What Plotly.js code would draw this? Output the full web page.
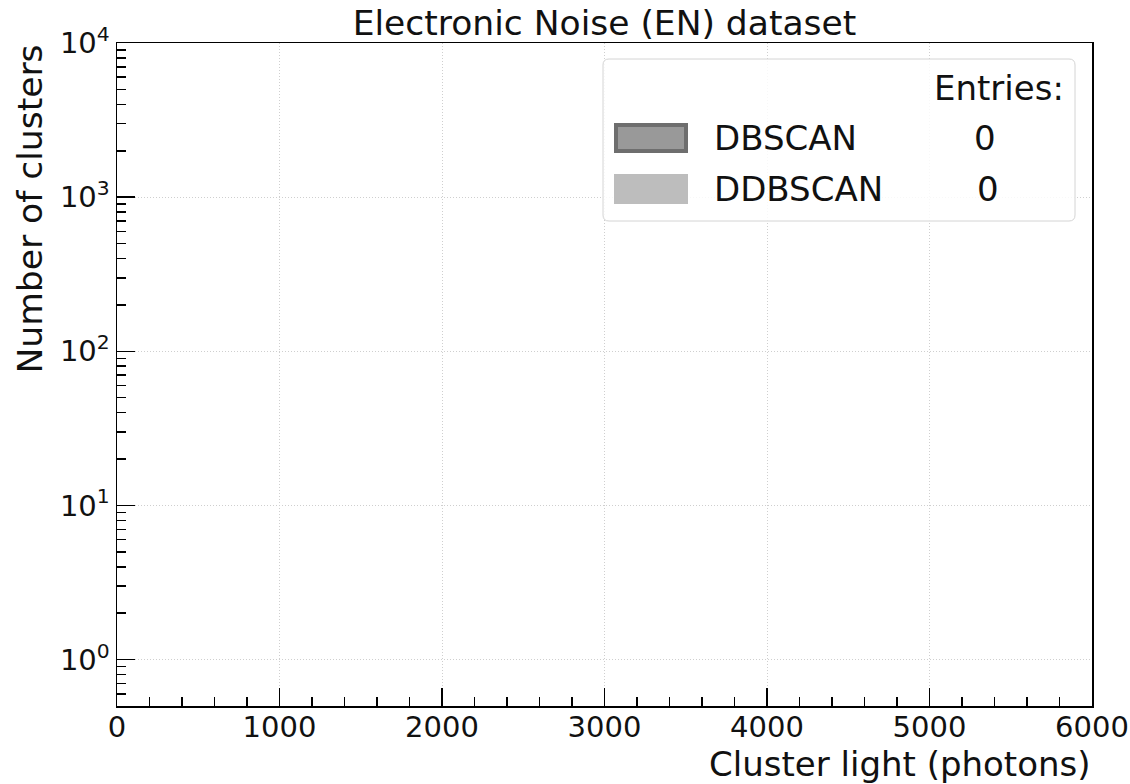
<!DOCTYPE html>
<html>
<head>
<meta charset="utf-8">
<script src="https://cdn.plot.ly/plotly-3.0.1.min.js"></script>
<style>
  html, body { margin: 0; padding: 0; background: #fff; }
  #chart { width: 1130px; height: 784px; }
</style>
</head>
<body>
<div id="chart"></div>
<script>
// ---- Data (the histograms are empty in the reference: 0 entries each) ----
const dbscanLight = [];     // cluster light values (photons) for DBSCAN
const ddbscanLight = [];    // cluster light values (photons) for DDBSCAN
const seriesNames = ['DBSCAN', 'DDBSCAN'];
const xTickVals = [0, 1000, 2000, 3000, 4000, 5000, 6000];
const xTickText = ['0', '1000', '2000', '3000', '4000', '5000', '6000'];
const yTickVals = [1, 10, 100, 1000, 10000];
const yTickText = ['10<sup>0</sup>', '10<sup>1</sup>', '10<sup>2</sup>', '10<sup>3</sup>', '10<sup>4</sup>'];
const chartTitle = 'Electronic Noise (EN) dataset';
const xTitle = 'Cluster light (photons)';
const yTitle = 'Number of clusters';
const legendHeader = 'Entries:';

const FONT = 'DejaVu Sans';
const W = 1130, H = 784;
const M = {l: 117, r: 38, t: 43, b: 78};
const PW = W - M.l - M.r, PH = H - M.t - M.b;
const px = x => (x - M.l) / PW;
const py = y => (H - M.b - y) / PH;

const traces = [
  {type: 'histogram', x: dbscanLight, name: seriesNames[0], xbins: {start: 0, end: 6000, size: 50},
   marker: {color: '#999999', line: {color: '#6e6e6e', width: 3}}, showlegend: false},
  {type: 'histogram', x: ddbscanLight, name: seriesNames[1], xbins: {start: 0, end: 6000, size: 50},
   marker: {color: '#bdbdbd'}, opacity: 1, showlegend: false}
];

// Legend drawn as shapes + annotations (large swatches like the reference)
function roundRect(x0, y0, x1, y1, r) {
  const rx = r / PW, ry = r / PH;
  const X0 = px(x0), X1 = px(x1), Y0 = py(y1), Y1 = py(y0); // Y0 bottom, Y1 top
  return `M${X0 + rx},${Y0} L${X1 - rx},${Y0} Q${X1},${Y0} ${X1},${Y0 + ry} L${X1},${Y1 - ry} Q${X1},${Y1} ${X1 - rx},${Y1} L${X0 + rx},${Y1} Q${X0},${Y1} ${X0},${Y1 - ry} L${X0},${Y0 + ry} Q${X0},${Y0} ${X0 + rx},${Y0} Z`;
}
const shapes = [
  {type: 'path', xref: 'paper', yref: 'paper', path: roundRect(603, 59, 1075, 221, 6),
   fillcolor: 'rgba(255,255,255,0.85)', line: {color: '#d4d4d4', width: 1}, layer: 'above'},
  {type: 'rect', xref: 'paper', yref: 'paper', x0: px(616), x1: px(686), y0: py(151), y1: py(125),
   fillcolor: '#999999', line: {color: '#6e6e6e', width: 4}, layer: 'above'},
  {type: 'rect', xref: 'paper', yref: 'paper', x0: px(614), x1: px(688), y0: py(204), y1: py(174),
   fillcolor: '#bdbdbd', line: {width: 0}, layer: 'above'}
];
const legFont = {family: FONT, size: 34, color: '#111'};
const counts = [dbscanLight.length, ddbscanLight.length];
const annotations = [
  {xref: 'paper', yref: 'paper', x: px(1066), y: py(88), xanchor: 'right', yanchor: 'middle', text: legendHeader, showarrow: false, font: legFont},
  {xref: 'paper', yref: 'paper', x: px(712), y: py(138), xanchor: 'left', yanchor: 'middle', text: seriesNames[0], showarrow: false, font: legFont},
  {xref: 'paper', yref: 'paper', x: px(985), y: py(138), xanchor: 'center', yanchor: 'middle', text: String(counts[0]), showarrow: false, font: legFont},
  {xref: 'paper', yref: 'paper', x: px(712), y: py(189), xanchor: 'left', yanchor: 'middle', text: seriesNames[1], showarrow: false, font: legFont},
  {xref: 'paper', yref: 'paper', x: px(988), y: py(189), xanchor: 'center', yanchor: 'middle', text: String(counts[1]), showarrow: false, font: legFont},
  // axis titles (x right-aligned, y top-aligned like the reference)
  {xref: 'paper', yref: 'paper', x: 1, y: 0, xanchor: 'right', yanchor: 'top', yshift: -37, borderpad: 0, text: xTitle, showarrow: false,
   font: {family: FONT, size: 34, color: '#111'}},
  {xref: 'paper', yref: 'paper', x: 0, y: 1, xanchor: 'center', yanchor: 'top', xshift: -88, text: yTitle, textangle: -90, showarrow: false,
   font: {family: FONT, size: 34.5, color: '#111'}}
];

const layout = {
  width: W, height: H,
  margin: M,
  paper_bgcolor: '#fff', plot_bgcolor: '#fff',
  font: {family: FONT, color: '#111'},
  barmode: 'overlay',
  title: {text: chartTitle, x: 0.5, xref: 'paper', xanchor: 'center', y: 1 - 23 / H, yref: 'container', yanchor: 'middle',
          font: {family: FONT, size: 34.5, color: '#111'}},
  xaxis: {
    range: [0, 6000], tickmode: 'array', tickvals: xTickVals, ticktext: xTickText,
    ticks: 'inside', ticklen: 18, tickwidth: 1.5, tickcolor: '#000', ticklabelstandoff: -5,
    showline: true, linecolor: '#000', linewidth: 1.5, mirror: true,
    showgrid: true, gridcolor: '#cfcfcf', griddash: '1px,2px', gridwidth: 1,
    zeroline: false, tickfont: {family: FONT, size: 29, color: '#111'},
    minor: {dtick: 200, tick0: 0, ticks: 'inside', ticklen: 9, tickwidth: 1.5, tickcolor: '#000', showgrid: false}
  },
  yaxis: {
    type: 'log', range: [Math.log10(0.5), 4], tickmode: 'array', tickvals: yTickVals, ticktext: yTickText,
    ticks: 'inside', ticklen: 18, tickwidth: 1.5, tickcolor: '#000',
    showline: true, linecolor: '#000', linewidth: 1.5, mirror: true,
    showgrid: true, gridcolor: '#cfcfcf', griddash: '1px,2px', gridwidth: 1,
    zeroline: false, tickfont: {family: FONT, size: 29, color: '#111'},
    minor: {dtick: 'D1', ticks: 'inside', ticklen: 9, tickwidth: 1.5, tickcolor: '#000', showgrid: false}
  },
  shapes: shapes,
  annotations: annotations,
  showlegend: false
};

Plotly.newPlot('chart', traces, layout, {displayModeBar: false, staticPlot: true});
</script>
</body>
</html>
